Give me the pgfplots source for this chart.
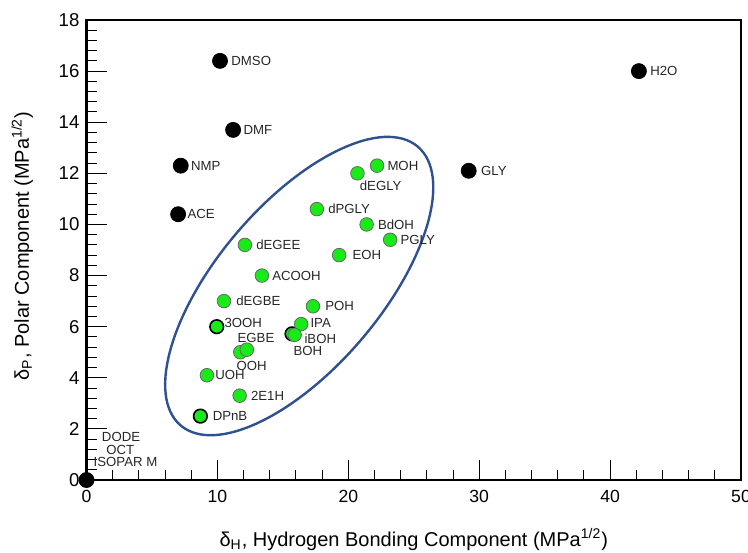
\documentclass[border=0pt]{standalone}
\usepackage{fontspec}
\setmainfont{Liberation Sans}
\usepackage{pgfplots}
\pgfplotsset{compat=1.18}
\definecolor{ptgreen}{RGB}{25,235,25}
\definecolor{ellblue}{RGB}{47,80,145}
\tikzset{lab/.style={anchor=west, inner sep=0pt, font=\fontsize{6.6}{8}\selectfont, text=black!85}}
\begin{document}
\begin{tikzpicture}
\begin{axis}[
  scale only axis,
  width=327.25pt, height=230pt,
  xmin=0, xmax=50, ymin=0, ymax=18,
  xtick={0,10,...,50}, ytick={0,2,...,18},
  minor x tick num=4, minor y tick num=4,
  xtick pos=bottom, ytick pos=left,
  tick align=inside,
  major tick length=10pt, minor tick length=5pt,
  axis line style={line width=1.1pt},
  every tick/.style={black, line width=0.5pt},
  yticklabel style={font=\fontsize{9.3}{11}\selectfont},
  xticklabel style={font=\fontsize{8.8}{10}\selectfont, yshift=-1.5pt},
  /pgf/number format/assume math mode=true,
  xlabel={δ\textsubscript{H}, Hydrogen Bonding Component (MPa\textsuperscript{1/2})},
  ylabel={δ\textsubscript{P}, Polar Component (MPa\textsuperscript{1/2})},
  x label style={font=\fontsize{10.5}{12}\selectfont},
  y label style={font=\fontsize{11}{13}\selectfont},
  every axis x label/.style={at={([yshift=-33pt]axis description cs:0.5,0)}, anchor=base},
  every axis y label/.style={at={([xshift=-28.75pt,yshift=2pt]axis description cs:0,0.5)}, rotate=90, anchor=base},
  clip=false,
]
% black points
\addplot[only marks, mark=*, mark size=3.75pt, mark options={fill=black, draw=black}] coordinates {
 (10.2,16.4) (11.2,13.7) (7.2,12.3) (7.0,10.4) (42.2,16.0) (29.2,12.1) (0,0)
};
% green points with dark outline
\addplot[only marks, mark=*, mark size=3.4pt, mark options={fill=ptgreen, draw=black, line width=0.8pt}] coordinates {
 (9.95,6.0) (8.7,2.5) (15.7,5.72)
};
% green points
\addplot[only marks, mark=*, mark size=3.4pt, mark options={fill=ptgreen, draw=black!60, line width=0.4pt}] coordinates {
 (22.2,12.3) (20.7,12.0) (17.6,10.6) (21.4,10.0) (23.2,9.4) (19.3,8.8)
 (12.1,9.2) (13.4,8.0) (10.5,7.0) (17.3,6.8) (16.4,6.1) (15.9,5.68)
 (11.75,5.0) (12.25,5.1) (9.2,4.1) (11.7,3.3)
};
% ellipse
\draw[ellblue, line width=1.2pt, rotate around={49.6:(axis cs:16.25,7.59)}] (axis cs:16.25,7.59) ellipse [x radius=91.5pt, y radius=41pt];
% labels
\node[lab, xshift=5.5pt] at (axis cs:10.2,16.4) {DMSO};
\node[lab, xshift=5pt] at (axis cs:11.2,13.7) {DMF};
\node[lab, xshift=5pt] at (axis cs:7.2,12.3) {NMP};
\node[lab, xshift=4.5pt] at (axis cs:7.0,10.4) {ACE};
\node[lab, xshift=5.5pt] at (axis cs:42.2,16.0) {H2O};
\node[lab, xshift=6pt] at (axis cs:29.2,12.1) {GLY};
\node[lab, xshift=5pt] at (axis cs:22.2,12.3) {MOH};
\node[lab, xshift=1pt, yshift=-6pt] at (axis cs:20.7,12.0) {dEGLY};
\node[lab, xshift=5.5pt] at (axis cs:17.6,10.6) {dPGLY};
\node[lab, xshift=5.5pt] at (axis cs:21.4,10.0) {BdOH};
\node[lab, xshift=5pt] at (axis cs:23.2,9.4) {PGLY};
\node[lab, xshift=6.5pt] at (axis cs:19.3,8.8) {EOH};
\node[lab, xshift=5.5pt] at (axis cs:12.1,9.2) {dEGEE};
\node[lab, xshift=5pt] at (axis cs:13.4,8.0) {ACOOH};
\node[lab, xshift=6pt] at (axis cs:10.5,7.0) {dEGBE};
\node[lab, xshift=6pt] at (axis cs:17.3,6.8) {POH};
\node[lab, xshift=4.5pt, yshift=0.5pt] at (axis cs:16.4,6.1) {IPA};
\node[lab, xshift=4.75pt, yshift=-2.1pt] at (axis cs:15.9,5.68) {iBOH};
\node[lab, xshift=0.6pt, yshift=-8.5pt] at (axis cs:15.7,5.72) {BOH};
\node[lab, xshift=3.7pt, yshift=1.8pt] at (axis cs:9.95,6.0) {3OOH};
\node[lab, xshift=-4.8pt, yshift=6pt] at (axis cs:12.25,5.1) {EGBE};
\node[lab, xshift=-2pt, yshift=-7pt] at (axis cs:11.75,5.0) {OOH};
\node[lab, xshift=4pt] at (axis cs:9.2,4.1) {UOH};
\node[lab, xshift=5.5pt] at (axis cs:11.7,3.3) {2E1H};
\node[lab, xshift=6pt] at (axis cs:8.7,2.5) {DPnB};
\node[lab, anchor=center] at (axis cs:2.64,1.69) {DODE};
\node[lab, anchor=center] at (axis cs:2.58,1.17) {OCT};
\node[lab, anchor=center] at (axis cs:2.98,0.72) {ISOPAR M};
\end{axis}
\pgfresetboundingbox
\path[use as bounding box] ([xshift=-43.25pt,yshift=-36pt]current axis.south west) rectangle ([xshift=3.5pt,yshift=10pt]current axis.north east);
\end{tikzpicture}
\end{document}
